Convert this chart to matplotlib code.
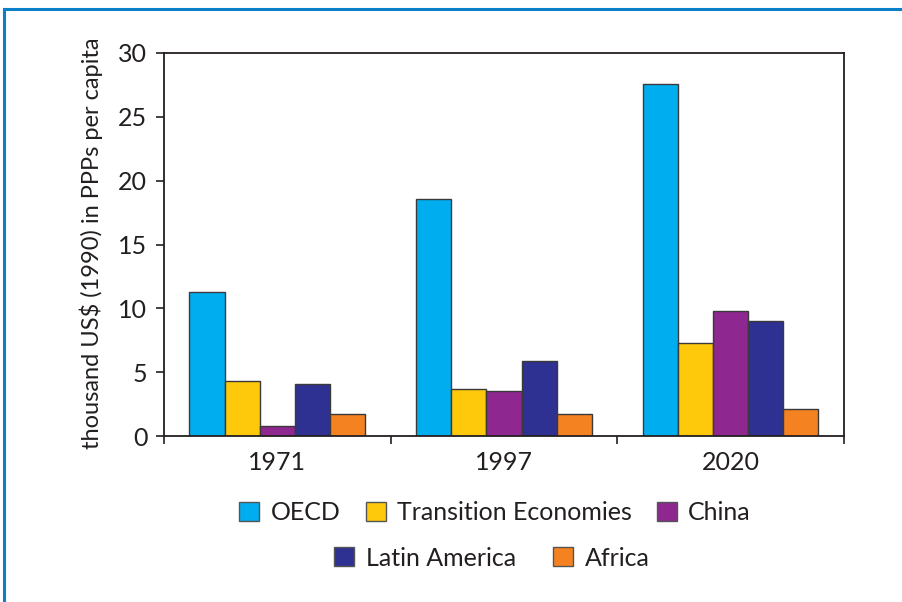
import matplotlib
matplotlib.use("Agg")
import matplotlib.pyplot as plt
from matplotlib.patches import Patch
from matplotlib.lines import Line2D
import numpy as np

plt.rcParams['font.family'] = ['Lato', 'DejaVu Sans']

years = ["1971", "1997", "2020"]
regions = ["OECD", "Transition Economies", "China", "Latin America", "Africa"]
oecd = [11.25, 18.6, 27.6]
transition = [4.3, 3.7, 7.3]
china = [0.75, 3.5, 9.8]
latin_america = [4.1, 5.9, 9.0]
africa = [1.7, 1.7, 2.1]
series = [oecd, transition, china, latin_america, africa]
colors = ["#00aeef", "#ffc90b", "#8e278f", "#2e3192", "#f58220"]
yticks = [0, 5, 10, 15, 20, 25, 30]

text_color = "#231f20"
edge = "#3a3a3a"

fig = plt.figure(figsize=(9.03, 6.02), dpi=100)
ax = fig.add_axes([164 / 903, 1 - 436 / 602, (844 - 164) / 903, (436 - 53) / 602])

x = np.arange(len(years))
width = 0.155
for i, (vals, col) in enumerate(zip(series, colors)):
    ax.bar(x + (i - 2) * width, vals, width, color=col, edgecolor=edge,
           linewidth=1.0, label=regions[i], zorder=2)

ax.set_xlim(-0.5, 2.5)
ax.set_ylim(0, 30)
ax.set_yticks(yticks)
ax.set_yticklabels([str(v) for v in yticks], fontsize=18, color=text_color)
ax.set_xticks([-0.5, 0.5, 1.5, 2.5])
ax.set_xticklabels([])
ax.set_xticks(x, minor=True)
ax.set_xticklabels(years, minor=True, fontsize=18, color=text_color)
ax.tick_params(axis='x', which='minor', length=0, pad=11)
ax.tick_params(axis='x', which='major', length=6, width=1.2, color=text_color, direction='out')
ax.tick_params(axis='y', length=6, width=1.2, color=text_color, direction='out', pad=6)
for s in ax.spines.values():
    s.set_color(text_color)
    s.set_linewidth(1.3)

fig.text(91 / 903, 1 - 243 / 602, "thousand US$ (1990) in PPPs per capita",
         rotation=90, ha='center', va='center', fontsize=17, color=text_color)

def handles(idx):
    return [Patch(facecolor=colors[i], edgecolor="#555555", linewidth=1.0) for i in idx]

leg_kw = dict(frameon=False, fontsize=18, handlelength=0.8, handleheight=0.8,
              handletextpad=0.45, labelcolor=text_color,
              borderpad=0, borderaxespad=0)
row1 = [0, 1, 2]
row2 = [3, 4]
fig.legend(handles(row1), [regions[i] for i in row1], ncol=3, loc='center',
           bbox_to_anchor=(495 / 903, 1 - 513 / 602), columnspacing=1.0, **leg_kw)
fig.legend(handles(row2), [regions[i] for i in row2], ncol=2, loc='center',
           bbox_to_anchor=(492 / 903, 1 - 558 / 602), columnspacing=1.5, **leg_kw)

# blue frame edges along the top and left
frame_col = "#0b7fc7"
fig.add_artist(Line2D([4.5 / 903, 1], [1 - 8.5 / 602, 1 - 8.5 / 602],
                      transform=fig.transFigure, color=frame_col, linewidth=2.2))
fig.add_artist(Line2D([4.5 / 903, 4.5 / 903], [0, 1 - 8.5 / 602],
                      transform=fig.transFigure, color=frame_col, linewidth=2.2))

fig.savefig("out.png", dpi=100)
